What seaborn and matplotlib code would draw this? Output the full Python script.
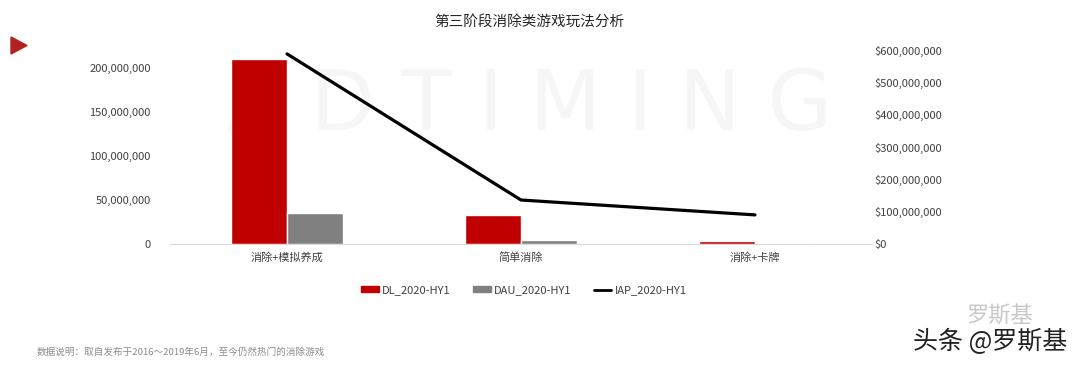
import numpy as np
import pandas as pd
import matplotlib.pyplot as plt
from matplotlib.patches import Patch, Polygon
from matplotlib.lines import Line2D
from matplotlib.ticker import FuncFormatter
import seaborn as sns

# data
categories = ['消除+模拟养成', '简单消除', '消除+卡牌']
dl = [210000000, 33000000, 3400000]
dau = [35000000, 4500000, 1000000]
iap = [588000000, 136000000, 90000000]
series_names = ['DL_2020-HY1', 'DAU_2020-HY1', 'IAP_2020-HY1']

sns.set_style("white")
plt.rcParams['font.family'] = ['Noto Sans CJK SC', 'DejaVu Sans']

df = pd.DataFrame({
    'cat': categories * 2,
    'val': dl + dau,
    'series': [series_names[0]] * 3 + [series_names[1]] * 3,
})

fig = plt.figure(figsize=(10.8, 3.66), dpi=100)
ax = fig.add_axes([170 / 1080, 1 - 244 / 366, 702 / 1080, 194 / 366])

# faint background watermark (behind the axes)
fig.text(0.49, 0.71, 'A D T I M I N G', fontsize=60, color='#f6f6f6',
         ha='center', va='center', zorder=-1, family='DejaVu Sans')

sns.barplot(data=df, x='cat', y='val', hue='series', order=categories,
            palette=['#C00000', '#808080'], width=0.48, saturation=1,
            ax=ax, legend=False, zorder=2)
ax.set_xlim(-0.5, 2.5)
ax.set_ylim(0, 220450000)
ax.set_yticks(np.arange(0, 200000001, 50000000))
ax.yaxis.set_major_formatter(FuncFormatter(lambda v, p: f'{int(v):,}'))
ax.set_xlabel('')
ax.set_ylabel('')
ax.patch.set_alpha(0)
for s in ['top', 'right', 'left']:
    ax.spines[s].set_visible(False)
ax.spines['bottom'].set_color('#d9d9d9')
ax.tick_params(axis='both', length=0, labelsize=8, colors='#404040', pad=14)
ax.tick_params(axis='x', pad=6)

ax2 = ax.twinx()
sns.lineplot(x=np.arange(len(categories)), y=iap, color='black', linewidth=2.3,
             ax=ax2, zorder=3)
ax2.set_ylim(0, 600000000)
ax2.set_yticks(np.arange(0, 600000001, 100000000))
ax2.yaxis.set_major_formatter(FuncFormatter(lambda v, p: f'${int(v):,}'))
for s in ['top', 'right', 'left', 'bottom']:
    ax2.spines[s].set_visible(False)
ax2.tick_params(axis='y', length=0, labelsize=8, colors='#404040', pad=2)

handles = [Patch(color='#C00000'), Patch(color='#808080'),
           Line2D([0], [0], color='black', linewidth=2)]
fig.legend(handles, series_names, loc='center', bbox_to_anchor=(0.485, 1 - 290 / 366),
           ncol=3, frameon=False, fontsize=8, handlelength=1.6, handleheight=0.45,
           handletextpad=0.3, columnspacing=2.0, labelcolor='#404040')

fig.text(0.49, 1 - 22 / 366, '第三阶段消除类游戏玩法分析', ha='center', va='center',
         fontsize=10.5, color='#262626')
fig.text(37 / 1080, 1 - 352 / 366, '数据说明：取自发布于2016～2019年6月，至今仍然热门的消除游戏',
         ha='left', va='center', fontsize=6.9, color='#8c8c8c')

# red marker triangle at top left
fig.patches.append(Polygon([[11 / 1080, 1 - 37 / 366], [11 / 1080, 1 - 54 / 366],
                            [27 / 1080, 1 - 45.5 / 366]], closed=True,
                           transform=fig.transFigure, color='#B22222'))

# site watermark bottom right
fig.text(1000 / 1080, 1 - 316 / 366, '罗斯基', ha='center', va='center', fontsize=16,
         color='#c8c8c8')
fig.text(990 / 1080, 1 - 342 / 366, '头条 @罗斯基', ha='center', va='center', fontsize=18,
         color='#222222')

fig.savefig('out.png', dpi=100)
